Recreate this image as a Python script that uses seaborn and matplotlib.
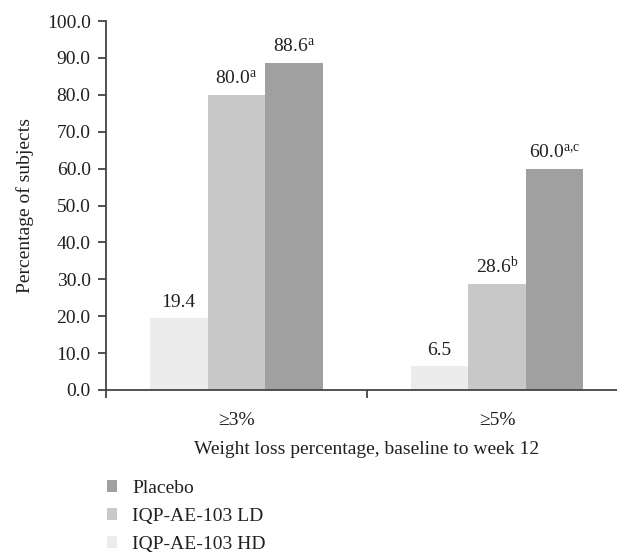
import matplotlib
matplotlib.use("Agg")
import matplotlib.pyplot as plt
import seaborn as sns
import pandas as pd
from matplotlib.patches import Patch

categories = ["\u22653%", "\u22655%"]
groups = ["IQP-AE-103 HD", "IQP-AE-103 LD", "Placebo"]
hd_values = [19.4, 6.5]
ld_values = [80.0, 28.6]
placebo_values = [88.6, 60.0]
hd_labels = ["19.4", "6.5"]
ld_labels = [r"80.0$^{\mathrm{a}}$", r"28.6$^{\mathrm{b}}$"]
placebo_labels = [r"88.6$^{\mathrm{a}}$", r"60.0$^{\mathrm{a{,}c}}$"]
yticks = [0, 10, 20, 30, 40, 50, 60, 70, 80, 90, 100]
colors = {"IQP-AE-103 HD": "#ececec", "IQP-AE-103 LD": "#c8c8c8", "Placebo": "#a0a0a0"}

rows = []
for g, vals in zip(groups, [hd_values, ld_values, placebo_values]):
    for c, v in zip(categories, vals):
        rows.append({"cat": c, "group": g, "value": v})
df = pd.DataFrame(rows)

sns.set_style("white")
plt.rcParams["font.family"] = ["Liberation Serif", "DejaVu Serif"]
plt.rcParams["mathtext.fontset"] = "custom"
plt.rcParams["mathtext.rm"] = "Liberation Serif"
plt.rcParams["mathtext.it"] = "Liberation Serif:italic"
txtc = "#231f20"
fs = 14

fig = plt.figure(figsize=(6.17, 5.55), dpi=100)
ax = fig.add_axes([106 / 617, (555 - 390) / 555, 511 / 617, 369 / 555])
sns.barplot(data=df, x="cat", y="value", hue="group", hue_order=groups,
            order=categories, palette=colors, width=0.663, gap=0,
            saturation=1, ax=ax, legend=False, linewidth=0)

ax.set_ylim(0, 100)
ax.set_xlim(-0.5, 1.46)
ax.set_yticks(yticks)
ax.set_yticklabels([f"{t:.1f}" for t in yticks])
ax.set_xticks([0, 1])
ax.set_xticklabels(categories)
ax.tick_params(axis="y", direction="out", length=6, width=1.3, color="#444444",
               labelsize=fs, labelcolor=txtc, pad=5, left=True)
ax.tick_params(axis="x", length=0, labelsize=fs, labelcolor=txtc, pad=16)
ax.set_xticks([-0.5, 0.5], minor=True)
ax.tick_params(axis="x", which="minor", direction="out", length=6, width=1.3,
               color="#444444", bottom=True)

for s in ["top", "right"]:
    ax.spines[s].set_visible(False)
for s in ["left", "bottom"]:
    ax.spines[s].set_color("#444444")
    ax.spines[s].set_linewidth(1.3)

ax.set_ylabel("Percentage of subjects", fontsize=fs, color=txtc, labelpad=9)
ax.set_xlabel("Weight loss percentage, baseline to week 12", fontsize=fs, color=txtc)
ax.xaxis.set_label_coords((367 - 106) / 511, -0.139)

label_sets = [hd_labels, ld_labels, placebo_labels]
for container, labels in zip(ax.containers, label_sets):
    for bar, lab in zip(container, labels):
        ax.annotate(lab, (bar.get_x() + bar.get_width() / 2, bar.get_height()),
                    xytext=(0, 8), textcoords="offset points", ha="center",
                    va="baseline", fontsize=fs, color=txtc)

handles = [Patch(facecolor=colors[g], edgecolor="none") for g in groups[::-1]]
leg = fig.legend(handles, groups[::-1], loc="upper left",
                 bbox_to_anchor=(99 / 617, 1 - 472 / 555), frameon=False,
                 fontsize=fs, handlelength=0.55, handleheight=0.55,
                 handletextpad=0.75, labelspacing=0.56, labelcolor=txtc,
                 borderaxespad=0, borderpad=0.4)

fig.savefig("out.png", dpi=100)
